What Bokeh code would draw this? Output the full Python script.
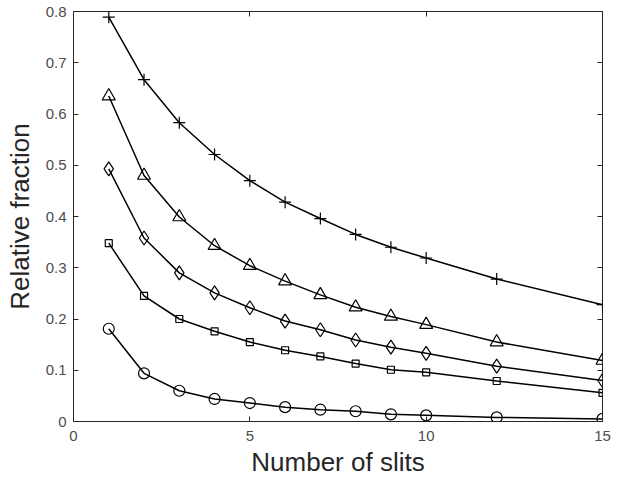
from bokeh.plotting import figure
from bokeh.models import LinearAxis, Range1d, FixedTicker
from bokeh.embed import file_html
from bokeh.resources import INLINE

slits = [1, 2, 3, 4, 5, 6, 7, 8, 9, 10, 12, 15]
series_plus = [0.789, 0.667, 0.583, 0.521, 0.470, 0.428, 0.396, 0.365, 0.340, 0.319, 0.278, 0.228]
series_triangle = [0.635, 0.480, 0.399, 0.343, 0.304, 0.274, 0.247, 0.223, 0.205, 0.189, 0.155, 0.119]
series_diamond = [0.493, 0.358, 0.290, 0.251, 0.222, 0.196, 0.179, 0.159, 0.145, 0.133, 0.108, 0.080]
series_square = [0.348, 0.245, 0.200, 0.176, 0.155, 0.139, 0.127, 0.113, 0.101, 0.096, 0.079, 0.056]
series_circle = [0.181, 0.094, 0.060, 0.044, 0.036, 0.028, 0.023, 0.020, 0.014, 0.012, 0.008, 0.005]

x_ticks = [0, 5, 10, 15]
y_ticks = [0, 0.1, 0.2, 0.3, 0.4, 0.5, 0.6, 0.7, 0.8]
x_label = "Number of slits"
y_label = "Relative fraction"

FONT = "Liberation Sans"
AX = "#262626"
TICKC = "#4d4d4d"

p = figure(width=620, height=485, output_backend="svg", toolbar_location=None,
           x_range=Range1d(0, 15), y_range=Range1d(0, 0.8),
           min_border_left=73, min_border_right=18, min_border_top=11, min_border_bottom=64)
p.background_fill_color = "white"
p.border_fill_color = "white"
p.grid.visible = False
p.outline_line_color = AX
p.outline_line_width = 1

for ax in (p.xaxis[0], p.yaxis[0]):
    ax.axis_line_color = AX
    ax.major_tick_line_color = AX
    ax.major_tick_in = 5
    ax.major_tick_out = 0
    ax.minor_tick_line_color = None
    ax.major_label_text_font = FONT
    ax.major_label_text_font_size = "15px"
    ax.major_label_text_color = TICKC
    ax.axis_label_text_font = FONT
    ax.axis_label_text_font_size = "26px"
    ax.axis_label_text_font_style = "normal"
    ax.axis_label_text_color = "#262626"

p.xaxis[0].ticker = FixedTicker(ticks=x_ticks)
p.yaxis[0].ticker = FixedTicker(ticks=y_ticks)
p.xaxis[0].axis_label = x_label
p.yaxis[0].axis_label = y_label
p.xaxis[0].major_label_standoff = 9
p.yaxis[0].major_label_standoff = 7
p.xaxis[0].axis_label_standoff = 3
p.yaxis[0].axis_label_standoff = 8
p.yaxis[0].major_label_overrides = {0: "0"}

top = LinearAxis(ticker=FixedTicker(ticks=x_ticks),
                 major_label_overrides={t: "" for t in x_ticks},
                 major_tick_in=5, major_tick_out=0, minor_tick_line_color=None,
                 axis_line_color=None, major_tick_line_color=AX, major_label_standoff=0)
right = LinearAxis(ticker=FixedTicker(ticks=y_ticks),
                   major_label_overrides={t: "" for t in y_ticks},
                   major_tick_in=5, major_tick_out=0, minor_tick_line_color=None,
                   axis_line_color=None, major_tick_line_color=AX, major_label_standoff=0)
p.add_layout(top, "above")
p.add_layout(right, "right")

LW = 1.5
specs = [
    (series_plus, "cross", 12),
    (series_triangle, "triangle", 13),
    (series_diamond, "diamond", 14),
    (series_square, "square", 7),
    (series_circle, "circle", 11),
]
for ys, marker, size in specs:
    p.line(slits, ys, line_color="black", line_width=LW)
    p.scatter(slits, ys, marker=marker, size=size, fill_color=None,
              line_color="black", line_width=1.2)

open("out.html", "w").write(file_html(p, INLINE))
